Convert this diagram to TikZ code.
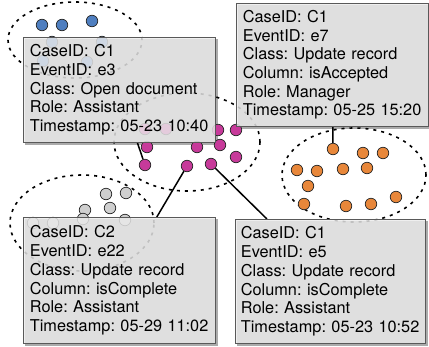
\documentclass[tikz,border=0pt]{standalone}
\usepackage{fontspec}
\setmainfont{TeX Gyre Heros}
\usepackage{xcolor}
\usepackage{tikz}
\definecolor{cblue}{HTML}{4F7FC0}
\definecolor{cpink}{HTML}{C73A9A}
\definecolor{corange}{HTML}{E8873A}
\definecolor{cgray}{HTML}{CFCFCF}
\pgfdeclarelayer{shade}
\pgfdeclarelayer{front}
\pgfsetlayers{shade,main,front}

\begin{document}
\begin{tikzpicture}[
  x=1pt, y=-1pt,
  dot/.style={circle, draw=black!85, line width=0.7pt, minimum size=11.5pt,
              inner sep=0pt},
  bdot/.style={dot, fill=cblue},
  pdot/.style={dot, fill=cpink},
  odot/.style={dot, fill=corange},
  gdot/.style={dot, fill=cgray},
  cl/.style={draw=black, line width=1.6pt, dash pattern=on 3pt off 5pt},
  ev/.style={rectangle, draw=black!65, line width=0.8pt, fill=black!8,
             fill opacity=0.82, text opacity=1, align=left, anchor=north west,
             inner xsep=6.5pt, inner ysep=0pt,
             font=\fontsize{16.3}{18.7}\selectfont\frenchspacing},
  shd/.style={fill=black!60, opacity=0.55},
  ln/.style={draw=black, line width=1.5pt}
]
\useasboundingbox (0,0) rectangle (429,346);

% clusters
\draw[cl] (75,40) ellipse [x radius=67pt, y radius=38pt];
\draw[cl] (187,142) ellipse [x radius=73pt, y radius=49pt];
\draw[cl] (354,175) ellipse [x radius=72pt, y radius=47pt];
\draw[cl] (82,223) ellipse [x radius=72pt, y radius=48pt];

% blue events
\node[bdot] (b1) at (42,25) {};
\node[bdot] (b2) at (62,25) {};
\node[bdot] (b3) at (92,21) {};
\node[bdot] (b4) at (52,42) {};
\node[bdot] (b5) at (102,42) {};
\node[bdot] (b6) at (43,61) {};
\node[bdot] (b7) at (87,62) {};

% pink events
\node[pdot] (p1) at (145,129) {};
\node[pdot] (p2) at (166,129) {};
\node[pdot] (p3) at (218,130) {};
\node[pdot] (p4) at (236,130) {};
\node[pdot] (p5) at (147,147) {};
\node[pdot] (p6) at (197,147) {};
\node[pdot] (p7) at (220,145) {};
\node[pdot] (p8) at (236,157) {};
\node[pdot] (p9) at (145,165) {};
\node[pdot] (p10) at (187,166) {};
\node[pdot] (p11) at (211,164) {};

% orange events
\node[odot] (o1) at (333,149) {};
\node[odot] (o2) at (363,153) {};
\node[odot] (o3) at (383,153) {};
\node[odot] (o4) at (297,170) {};
\node[odot] (o5) at (317,171) {};
\node[odot] (o6) at (343,169) {};
\node[odot] (o7) at (367,168) {};
\node[odot] (o8) at (308,186) {};
\node[odot] (o9) at (304,204) {};
\node[odot] (o10) at (346,206) {};
\node[odot] (o11) at (371,204) {};
\node[odot] (o12) at (396,197) {};

% gray events
\node[gdot] (g1) at (106,194) {};
\node[gdot] (g2) at (126,193) {};
\node[gdot] (g3) at (85,210) {};
\node[gdot] (g4) at (110,208) {};
\node[gdot] (g5) at (33,223) {};
\node[gdot] (g6) at (53,223) {};
\node[gdot] (g7) at (83,219) {};
\node[gdot] (g8) at (125,220) {};

% event records
\begin{pgfonlayer}{front}
\node[ev, text width=179pt, minimum height=105pt] (e3) at (23,37)
  {CaseID: C1\\EventID: e3\\Class: Open document\\Role: Assistant\\
   Timestamp: 05-23 10:40};
\node[ev, text width=179pt, minimum height=123pt] (e7) at (236,3)
  {CaseID: C1\\EventID: e7\\Class: Update record\\Column: isAccepted\\
   Role: Manager\\Timestamp: 05-25 15:20};
\node[ev, text width=179pt, minimum height=126pt] (e22) at (23,217)
  {CaseID: C2\\EventID: e22\\Class: Update record\\Column: isComplete\\
   Role: Assistant\\Timestamp: 05-29 11:02};
\node[ev, text width=179pt, inner xsep=5.5pt, minimum height=124pt] (e5) at (235,219)
  {CaseID: C1\\EventID: e5\\Class: Update record\\Column: isComplete\\
   Role: Assistant\\Timestamp: 05-23 10:52};
\end{pgfonlayer}

% shadows
\begin{pgfonlayer}{shade}
\foreach \b in {e3,e7,e22,e5}
  \fill[shd] ([shift={(2,2)}]\b.north west) rectangle ([shift={(2,2)}]\b.south east);
\end{pgfonlayer}

\draw[ln] (p9) -- (e3);
\draw[ln] (o1) -- (e7);
\draw[ln] (p10) -- (e22);
\draw[ln] (p11) -- (e5);
\end{tikzpicture}
\end{document}
